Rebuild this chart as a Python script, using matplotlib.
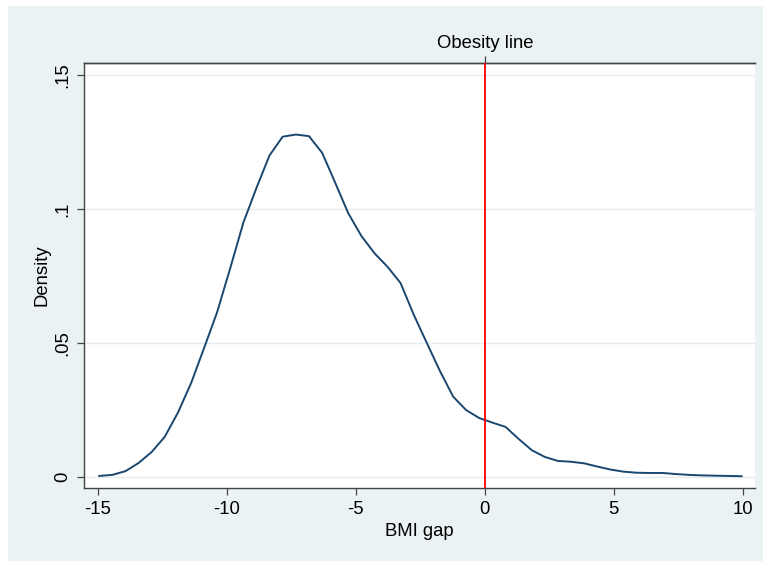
import matplotlib
matplotlib.use("Agg")
import matplotlib.pyplot as plt
from matplotlib.patches import Rectangle

plt.rcParams['font.family'] = ['Liberation Sans', 'DejaVu Sans']
plt.rcParams['font.size'] = 13

# kernel density evaluation points (BMI gap) and estimated density
bmi_gap = [-14.95, -14.44, -13.93, -13.43, -12.92, -12.41, -11.90, -11.39, -10.89, -10.38,
           -9.87, -9.36, -8.85, -8.35, -7.84, -7.33, -6.82, -6.31, -5.81, -5.30,
           -4.79, -4.28, -3.77, -3.27, -2.76, -2.25, -1.74, -1.23, -0.73, -0.22,
           0.29, 0.80, 1.31, 1.82, 2.32, 2.83, 3.34, 3.85, 4.36, 4.86,
           5.37, 5.88, 6.39, 6.90, 7.41, 7.91, 8.42, 8.93, 9.44, 9.95]
density = [0.0004, 0.0008, 0.0022, 0.0052, 0.0093, 0.0150, 0.0240, 0.0350, 0.0480, 0.0615,
           0.0780, 0.0950, 0.1080, 0.1200, 0.1270, 0.1278, 0.1272, 0.1210, 0.1100, 0.0985,
           0.0900, 0.0835, 0.0784, 0.0724, 0.0606, 0.0500, 0.0395, 0.0300, 0.0250, 0.0220,
           0.0203, 0.0187, 0.0142, 0.0100, 0.0075, 0.0060, 0.0057, 0.0051, 0.0039, 0.0028,
           0.0020, 0.0016, 0.0015, 0.0015, 0.0011, 0.0008, 0.0006, 0.0005, 0.0004, 0.0003]

x_ticks = [-15, -10, -5, 0, 5, 10]
y_ticks = [0, 0.05, 0.10, 0.15]
y_tick_labels = ['0', '.05', '.1', '.15']
obesity_x = 0

BG = '#EAF2F3'
NAVY = '#1A476F'
AXIS = '#444444'
FS = 13.3

fig = plt.figure(figsize=(7.63, 5.61), dpi=100, facecolor='white')
fig.patches.append(Rectangle((8 / 763, 0), 755 / 763, 555 / 561,
                             transform=fig.transFigure, facecolor=BG,
                             edgecolor='none', zorder=-10))

ax = fig.add_axes([84 / 763, 73 / 561, 671 / 763, 425 / 561])
ax.set_facecolor('white')

ax.plot(bmi_gap, density, color=NAVY, lw=1.4, zorder=3)
ax.axvline(obesity_x, color='#FF0000', lw=1.3, zorder=4)

ax.set_xlim(-15.54, 10.47)
ax.set_ylim(-0.0041, 0.1545)

ax.set_xticks(x_ticks)
ax.set_xticklabels([str(t) for t in x_ticks])
ax.set_yticks(y_ticks)
ax.set_yticklabels(y_tick_labels, rotation=90, va='center')

ax.yaxis.grid(True, color='#E3ECEE', lw=1.0, zorder=0)
ax.set_axisbelow(True)

ax.spines['right'].set_visible(False)
for side in ['left', 'bottom', 'top']:
    ax.spines[side].set_color(AXIS)
    ax.spines[side].set_linewidth(1.0)

ax.tick_params(axis='both', direction='out', length=5, width=0.9, color=AXIS,
               labelsize=FS, pad=4)

ax.set_xlabel('BMI gap', fontsize=FS, labelpad=4)
ax.set_ylabel('Density', fontsize=FS, labelpad=3)

top = ax.secondary_xaxis('top')
top.set_xticks([obesity_x])
top.set_xticklabels(['Obesity line'])
top.tick_params(direction='out', length=5, width=0.9, color=AXIS, labelsize=FS, pad=3)
top.spines['top'].set_color(AXIS)
top.spines['top'].set_linewidth(1.0)

fig.savefig('out.png', dpi=100, facecolor='white')
